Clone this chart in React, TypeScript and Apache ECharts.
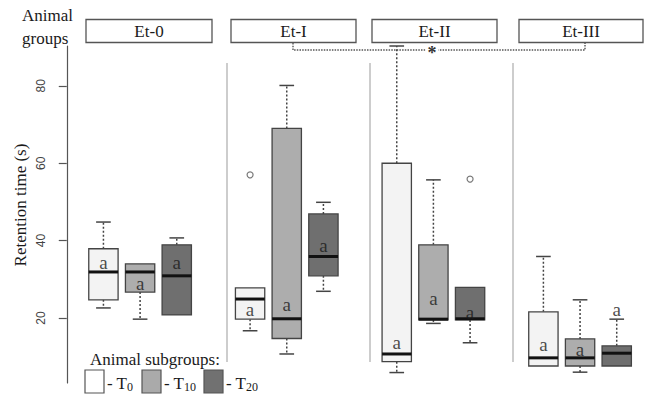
import React, { useEffect, useRef } from "react";
import * as echarts from "echarts";

// Animal groups and subgroups
const groups = ["Et-0", "Et-I", "Et-II", "Et-III"];
const subgroups = ["T0", "T10", "T20"];

// Box statistics per subgroup: [lower whisker, Q1, median, Q3, upper whisker]
const et0Stats = [
  [22.6, 24.7, 31.9, 37.9, 44.8],
  [19.7, 26.7, 31.9, 34.0, 34.0],
  [20.8, 20.8, 30.9, 38.9, 40.7],
];
const et1Stats = [
  [16.7, 19.7, 24.9, 27.8, 27.8],
  [10.7, 14.7, 19.8, 69.0, 80.1],
  [26.9, 30.9, 35.9, 46.9, 49.9],
];
const et2Stats = [
  [5.9, 8.7, 10.7, 60.0, 90.3],
  [18.6, 19.5, 19.7, 38.9, 55.7],
  [13.6, 19.5, 19.8, 27.9, 27.9],
];
const et3Stats = [
  [7.6, 7.6, 9.7, 21.6, 35.9],
  [6.0, 7.6, 9.7, 14.6, 24.7],
  [7.6, 7.6, 10.9, 12.8, 19.7],
];

// Significance letters and where they sit (value on y axis)
const letters = [
  ["a", "a", "a"],
  ["a", "a", "a"],
  ["a", "a", "a"],
  ["a", "a", "a"],
];
const letterValues = [
  [34.3, 29.0, 34.3],
  [22.3, 23.6, 38.7],
  [13.6, 25.0, 21.4],
  [13.2, 11.9, 22.1],
];

// Outliers: [group, subgroup, value]
const outliers: [string, string, number][] = [
  ["Et-I", "T0", 57],
  ["Et-II", "T20", 55.9],
];

const yTicks = [20, 40, 60, 80];

const allStats = [et0Stats, et1Stats, et2Stats, et3Stats];
const fills = ["#f3f3f3", "#adadad", "#6f6f6f"];
const legendFills = ["#ffffff", "#aaaaaa", "#717171"];

const pos = (g: number, s: number) => g * 4 + s + 1;

export default function App() {
  const ref = useRef<HTMLDivElement>(null);
  useEffect(() => {
    if (!ref.current) return;
    const chart = echarts.init(ref.current, undefined, { renderer: "svg" });

    const boxData: number[][] = [];
    allStats.forEach((gs, g) =>
      gs.forEach((st, s) => boxData.push([pos(g, s), ...st, s]))
    );
    const letterData: any[] = [];
    letterValues.forEach((row, g) =>
      row.forEach((v, s) =>
        letterData.push({ value: [pos(g, s), v], label: { formatter: letters[g][s] } })
      )
    );
    const outlierData = outliers.map(([gn, sn, v]) => [
      pos(groups.indexOf(gn), subgroups.indexOf(sn)),
      v,
    ]);

    const serif = "Liberation Serif";
    const dark = "#444";
    const txt = (text: string, x: number, y: number, size: number, extra: any = {}) => ({
      type: "text",
      x,
      y,
      ...extra,
      style: {
        text,
        fontSize: size,
        fontFamily: serif,
        fill: "#1a1a1a",
        align: "left",
        verticalAlign: "middle",
        ...(extra.style || {}),
      },
    });

    const headerBoxes = [
      { x: 86, w: 126 },
      { x: 231, w: 125 },
      { x: 372, w: 125 },
      { x: 519, w: 124 },
    ];

    const graphic: any[] = [];
    groups.forEach((gname, i) => {
      const b = headerBoxes[i];
      graphic.push({
        type: "rect",
        shape: { x: b.x, y: 19.5, width: b.w, height: 23 },
        style: { fill: "#fff", stroke: "#555", lineWidth: 1.3 },
      });
      graphic.push(txt(gname, b.x + b.w / 2, 31, 17, { style: { align: "center" } }));
    });
    graphic.push(txt("Animal", 22, 15, 17));
    graphic.push(txt("groups", 22, 38, 17));
    // significance bracket
    graphic.push({
      type: "polyline",
      shape: { points: [[293, 43], [293, 50], [585, 50], [585, 43]] },
      style: { stroke: "#555", lineWidth: 1.4, lineDash: [1.5, 1.2], fill: null },
      z: 5,
    });
    graphic.push(
      txt("*", 432, 53, 18, {
        z: 6,
        style: { align: "center", fontWeight: "bold", backgroundColor: "#fff", padding: [0, 2], fill: "#333" },
      })
    );
    // y axis title
    graphic.push(
      txt("Retention time (s)", 20, 205, 17, { rotation: Math.PI / 2, style: { align: "center" } })
    );
    // legend
    graphic.push(txt("Animal subgroups:", 90, 359, 17));
    const legendX = [85, 142, 204];
    const subs = ["0", "10", "20"];
    legendX.forEach((lx, i) => {
      graphic.push({
        type: "rect",
        shape: { x: lx, y: 370, width: 19, height: 23 },
        style: { fill: legendFills[i], stroke: "#555", lineWidth: 1.2 },
      });
      graphic.push(txt("- T", lx + 22, 383, 17));
      graphic.push(txt(subs[i], lx + 42, 387, 12));
    });

    const option: any = {
      animation: false,
      grid: { left: 62, right: 0, top: 46, bottom: 11 },
      xAxis: {
        type: "value",
        min: -0.13,
        max: 15.853,
        show: false,
      },
      yAxis: {
        type: "value",
        min: 3.2,
        max: 90.3,
        axisLine: { show: true, lineStyle: { color: "#555", width: 1.2 } },
        axisTick: {
          show: true,
          customValues: yTicks,
          length: 8,
          lineStyle: { color: "#555", width: 1.2 },
        },
        axisLabel: {
          customValues: yTicks,
          rotate: 90,
          fontSize: 12,
          color: "#444",
          fontFamily: "Liberation Sans",
          margin: 15,
        },
        splitLine: { show: false },
      },
      graphic,
      series: [
        {
          type: "custom",
          data: boxData,
          renderItem: (params: any, api: any) => {
            const x = api.value(0);
            const lo = api.value(1);
            const q1 = api.value(2);
            const med = api.value(3);
            const q3 = api.value(4);
            const hi = api.value(5);
            const s = api.value(6);
            const [xl, yq3] = api.coord([x - 0.4, q3]);
            const [xr, yq1] = api.coord([x + 0.4, q1]);
            const [xc, ymed] = api.coord([x, med]);
            const [cl, yhi] = api.coord([x - 0.2, hi]);
            const [cr, ylo] = api.coord([x + 0.2, lo]);
            const children: any[] = [];
            const wStyle = { stroke: dark, lineWidth: 1.5, lineDash: [2, 2] };
            const cStyle = { stroke: dark, lineWidth: 1.5 };
            if (hi > q3) {
              children.push({ type: "line", shape: { x1: xc, y1: yq3, x2: xc, y2: yhi }, style: wStyle });
              children.push({ type: "line", shape: { x1: cl, y1: yhi, x2: cr, y2: yhi }, style: cStyle });
            }
            if (lo < q1) {
              children.push({ type: "line", shape: { x1: xc, y1: yq1, x2: xc, y2: ylo }, style: wStyle });
              children.push({ type: "line", shape: { x1: cl, y1: ylo, x2: cr, y2: ylo }, style: cStyle });
            }
            children.push({
              type: "rect",
              shape: { x: xl, y: yq3, width: xr - xl, height: yq1 - yq3 },
              style: { fill: fills[s], stroke: dark, lineWidth: 1.3 },
            });
            children.push({
              type: "line",
              shape: { x1: xl, y1: ymed, x2: xr, y2: ymed },
              style: { stroke: "#111", lineWidth: 3 },
            });
            return { type: "group", children };
          },
          z: 3,
        },
        {
          type: "scatter",
          data: outlierData,
          symbol: "circle",
          symbolSize: 6,
          itemStyle: { color: "#fff", borderColor: "#555", borderWidth: 1.2 },
          z: 4,
          markLine: {
            silent: true,
            symbol: "none",
            label: { show: false },
            lineStyle: { color: "#bdbdbd", type: "solid", width: 1.5 },
            data: [4.37, 8.27, 12.17].map((px) => [
              { coord: [px, 85.9] },
              { coord: [px, 8.6] },
            ]),
          },
        },
        {
          type: "scatter",
          data: letterData,
          symbol: "circle",
          symbolSize: 2,
          itemStyle: { color: "rgba(0,0,0,0)" },
          label: {
            show: true,
            position: "inside",
            fontSize: 19,
            fontFamily: serif,
            color: "#1a1a1a",
          },
          z: 5,
        },
      ],
    };
    chart.setOption(option);
    return () => chart.dispose();
  }, []);

  return (
    <div
      ref={ref}
      style={{ position: "fixed", left: 0, top: 0, width: 648, height: 394, background: "#fff" }}
    />
  );
}
